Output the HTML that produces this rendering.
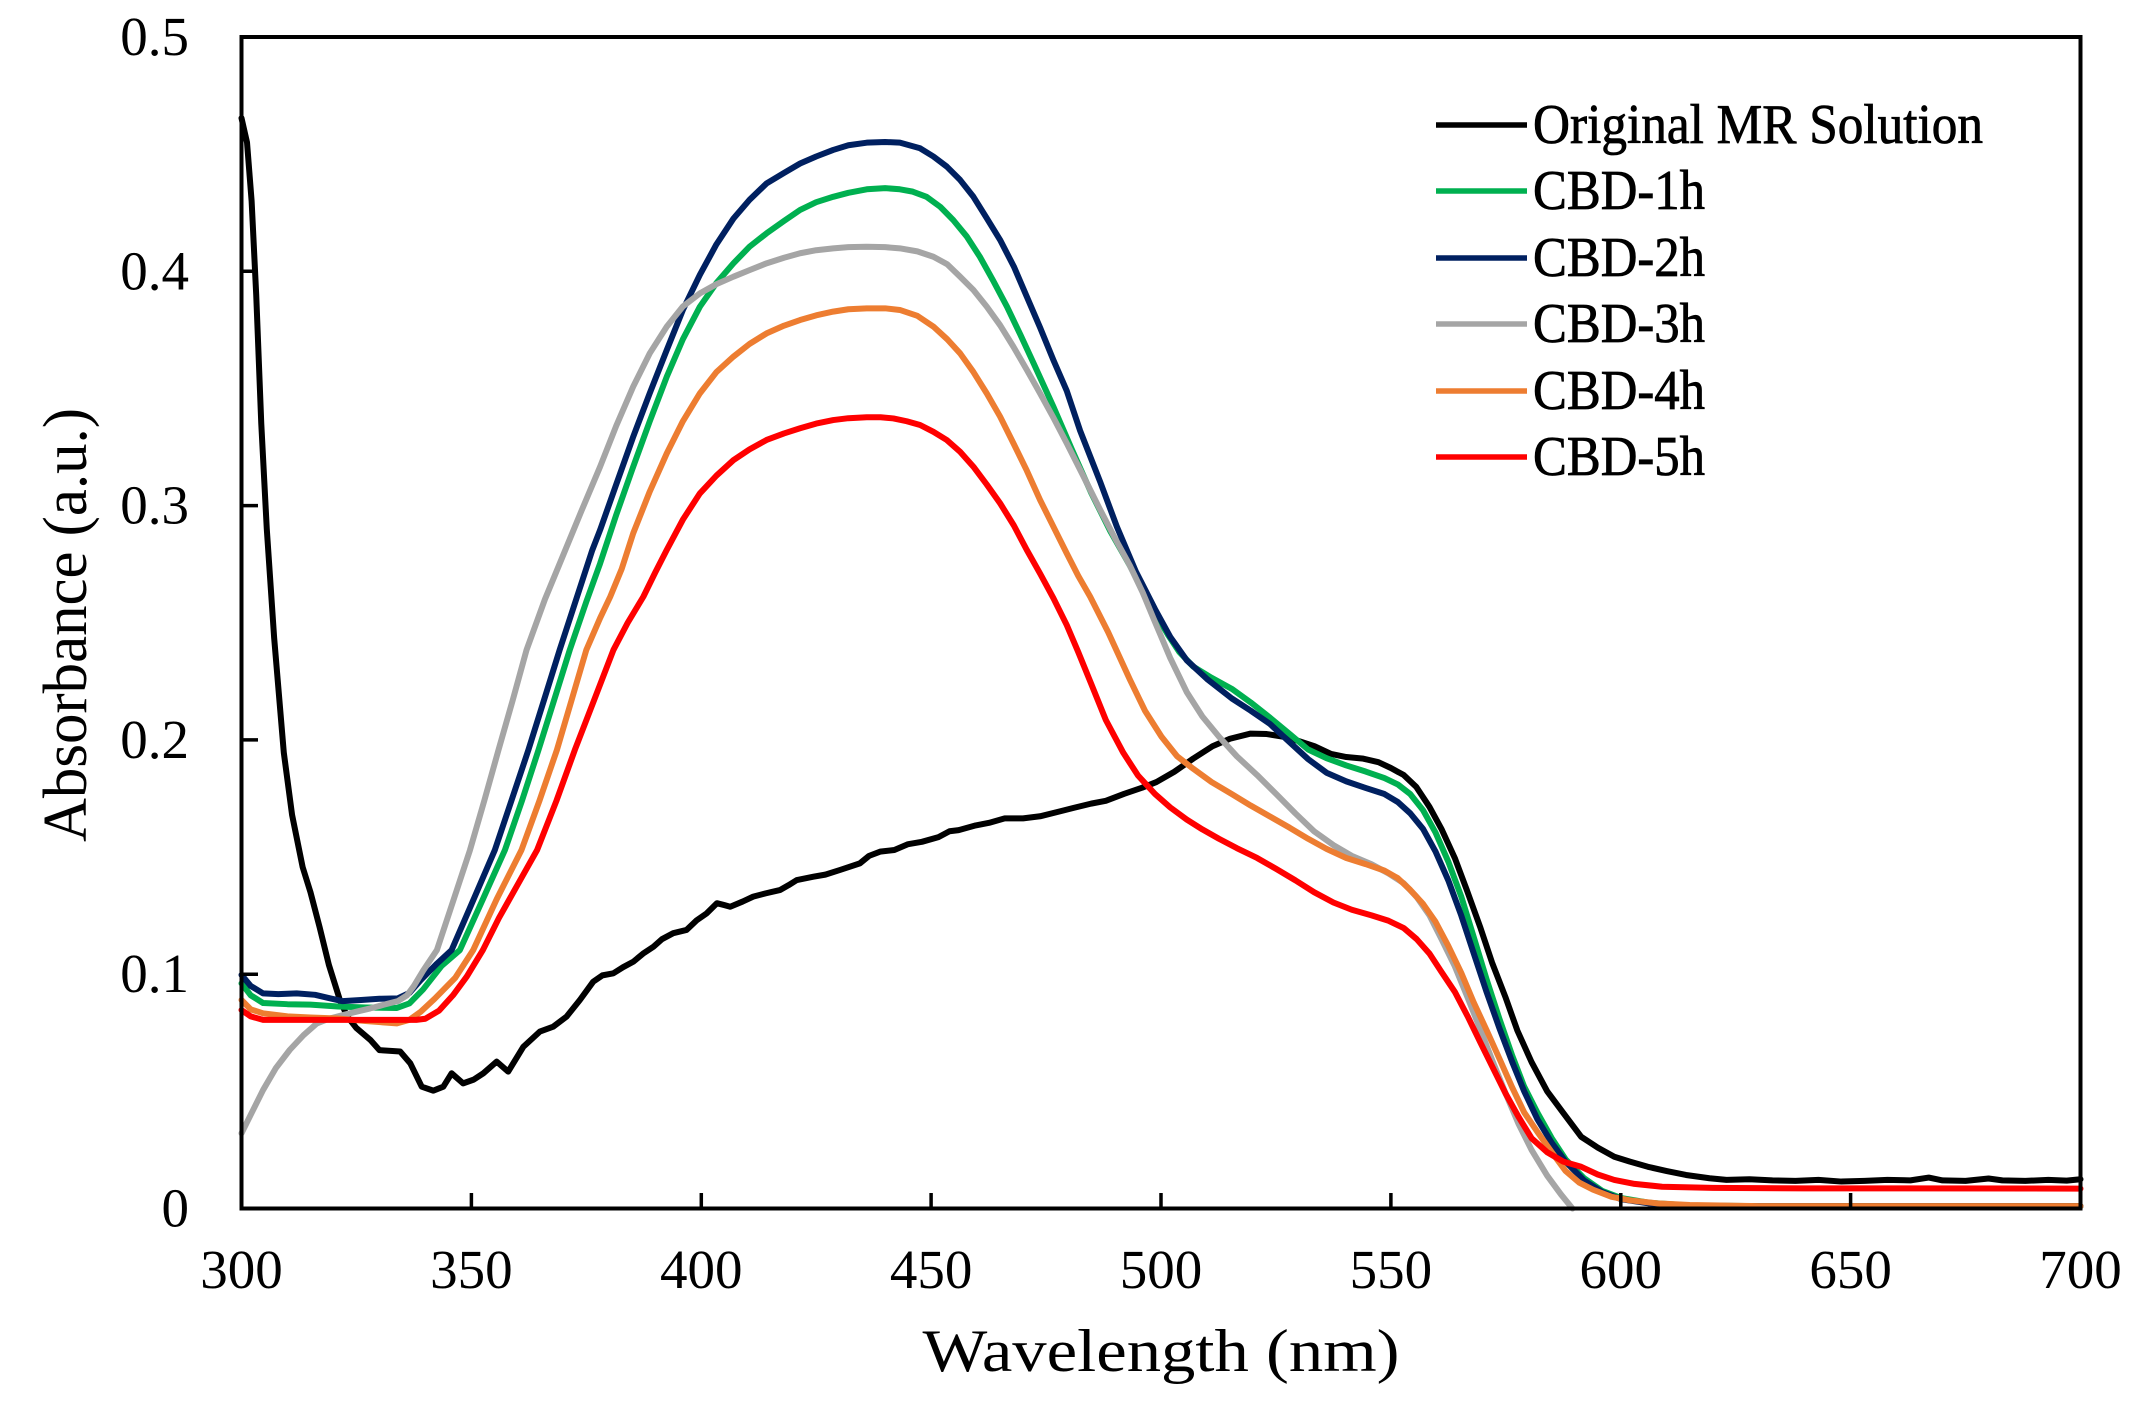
<!DOCTYPE html>
<html><head><meta charset="utf-8"><style>
html,body{margin:0;padding:0;background:#fff;}
svg{display:block;}
text{font-family:"Liberation Serif","Times New Roman",serif;fill:#000;}
</style></head><body>
<svg width="2147" height="1403" viewBox="0 0 2147 1403" xmlns="http://www.w3.org/2000/svg">
<rect x="0" y="0" width="2147" height="1403" fill="#fff"/>
<g transform="matrix(4.5975 0 0 -2343 -1137.75 1208.5)" fill="none" stroke-linejoin="round" stroke-linecap="round">
<polyline vector-effect="non-scaling-stroke" stroke="#000" stroke-width="6" points="300,0.4654 301.2,0.455 302.2,0.43 303.2,0.39 304.3,0.335 305.5,0.29 307.1,0.2436 309.2,0.1946 311,0.168 313.3,0.1457 315,0.135 317,0.12 319,0.104 321.4,0.089 323,0.082 325,0.077 328,0.072 330,0.0676 334.5,0.067 336.7,0.062 339.2,0.052 341.7,0.0503 343.9,0.052 345.7,0.0577 348.2,0.0534 350.5,0.055 352.6,0.0577 355.5,0.0627 358,0.0584 361.3,0.069 364.9,0.0755 367.8,0.0776 370.7,0.0819 373.6,0.089 376.5,0.0968 378.5,0.0995 380.9,0.1004 383,0.103 385.2,0.1053 387.5,0.109 389.6,0.1117 391.5,0.115 393.9,0.1175 396.8,0.1189 399,0.123 401.2,0.126 403.4,0.1303 405,0.1295 406.3,0.1288 409,0.131 411.3,0.1331 414,0.1345 417.1,0.1359 419,0.138 420.8,0.1402 424.4,0.1416 427,0.1425 430.2,0.1445 434.5,0.1473 436.5,0.1505 438.9,0.1523 442,0.153 445,0.1555 448,0.1565 451.6,0.1585 454,0.161 456,0.1615 459.7,0.1635 462.6,0.1646 466,0.1665 470,0.1665 473.7,0.1674 478,0.1695 481,0.171 484.8,0.1728 488,0.174 492,0.177 495.9,0.1796 499,0.182 502.9,0.1864 507,0.192 511.2,0.1973 515,0.2005 519.5,0.2027 523,0.2025 526.5,0.2014 530,0.1995 533.4,0.1973 537,0.194 540.3,0.1927 544,0.192 547.3,0.1905 550,0.188 552.8,0.185 555.5,0.18 558.4,0.1714 561,0.162 563.9,0.1496 566.5,0.136 569.5,0.1197 572,0.105 575,0.0898 577.5,0.076 580.6,0.0625 584,0.05 587.5,0.0408 591.4,0.0306 595,0.026 598.6,0.0221 602,0.02 605.9,0.0178 610,0.016 614.2,0.0143 619.3,0.0129 623,0.0122 628,0.0125 633,0.012 638,0.0118 643,0.0122 648,0.0115 653,0.0118 658,0.0122 663,0.012 667,0.0132 670,0.012 675,0.0118 680,0.0128 683,0.012 688,0.0118 693,0.0122 697,0.0119 700,0.0125"/>
<polyline vector-effect="non-scaling-stroke" stroke="#00B050" stroke-width="6" points="300,0.0961 302,0.091 304.7,0.0877 310,0.0872 315,0.087 321,0.0862 327,0.0858 333.8,0.0856 336.5,0.0875 339.5,0.0935 343.5,0.1035 347.5,0.1103 352.5,0.132 357.3,0.153 361,0.174 364.6,0.1957 368,0.217 371.4,0.2384 375,0.259 378,0.2753 381.5,0.296 385.2,0.3166 388.8,0.336 392.5,0.355 396,0.371 399.7,0.3849 403.3,0.395 407,0.4034 410.5,0.4105 414.2,0.4162 418,0.4215 421.5,0.4262 425,0.4295 428.7,0.4318 432,0.4335 436,0.435 440,0.4355 443.2,0.435 446,0.434 449,0.4318 452,0.4275 454.8,0.4219 457.7,0.415 460.6,0.4062 463.5,0.396 466.5,0.3849 469.4,0.373 472.3,0.3607 476.6,0.3422 480.6,0.324 484.8,0.3055 489,0.289 493.2,0.2745 497.3,0.259 501.5,0.2449 504,0.2375 507,0.2313 511,0.2265 515.4,0.2218 519.5,0.216 523.7,0.2095 528,0.2025 532,0.1959 536,0.1922 540.3,0.1891 544.5,0.1865 548.6,0.1837 551.5,0.181 554.2,0.1769 557,0.17 559.7,0.1605 562.5,0.148 565.3,0.1332 568,0.116 570.8,0.0979 573.6,0.081 576.4,0.0652 579,0.052 581.9,0.0408 585,0.03 588,0.021 592,0.013 596,0.0075 600,0.0045 606,0.0025 615,0.0013 630,0.001 700,0.001"/>
<polyline vector-effect="non-scaling-stroke" stroke="#002060" stroke-width="6" points="300,0.0997 302,0.095 304.7,0.0918 308,0.0915 312,0.0918 316,0.0912 319,0.0898 322,0.0885 326,0.089 330,0.0895 334,0.0897 336.5,0.092 339,0.0975 342.5,0.1045 345.7,0.1103 350.5,0.132 355.1,0.153 358.7,0.174 362.4,0.1957 365.8,0.217 369.2,0.2384 372.8,0.26 376.3,0.281 378,0.2896 381.5,0.309 385.2,0.3294 388.8,0.348 392.5,0.3664 396,0.3835 399.7,0.3985 403.3,0.4115 407,0.4225 410.5,0.4305 414.2,0.4375 418,0.442 421.5,0.446 425,0.449 428.7,0.4518 432,0.4538 436,0.4549 440,0.4552 443.2,0.4549 447.6,0.4525 450.5,0.449 453.4,0.4447 456.3,0.439 459.2,0.4318 462,0.423 465,0.4134 468,0.402 470.8,0.3892 473.7,0.376 476.6,0.3621 479.5,0.349 482.4,0.332 486.8,0.31 490.4,0.291 494.5,0.272 498.7,0.2558 502,0.244 505.6,0.234 510,0.226 515.4,0.2177 519.5,0.2125 523.7,0.2068 528,0.199 532,0.1918 536,0.186 540.3,0.1823 544.5,0.1795 548.6,0.1769 551.5,0.1735 554.2,0.1687 557,0.162 559.7,0.1524 562.5,0.14 565.3,0.1251 568,0.109 570.8,0.0925 573.6,0.077 576.4,0.0625 579,0.05 581.9,0.038 585,0.028 588,0.02 592,0.012 596,0.007 600,0.004 606,0.0022 615,0.0012 630,0.001 700,0.001"/>
<polyline vector-effect="non-scaling-stroke" stroke="#A5A5A5" stroke-width="6" points="300,0.0321 302,0.04 304.7,0.0506 307.5,0.06 310.5,0.0677 313.5,0.074 316.4,0.079 319,0.081 322.1,0.0826 325,0.084 328,0.0854 331,0.087 334,0.0885 336,0.091 337.5,0.095 339.5,0.1015 342.5,0.1103 346,0.131 349.7,0.153 352.8,0.174 355.9,0.1957 359,0.217 362,0.2384 366,0.26 370,0.279 374,0.298 378,0.3166 381.5,0.334 385.2,0.3508 388.8,0.365 392.5,0.3764 396,0.385 399.7,0.3906 403.3,0.3945 407,0.3977 410.5,0.4005 414.2,0.4034 418,0.4058 421.5,0.4077 425,0.409 428.7,0.4098 432,0.4103 436,0.4105 440,0.4103 443.2,0.4098 447,0.4085 450.5,0.4062 453.5,0.403 456.3,0.3977 459.2,0.392 462.1,0.3849 465,0.377 467.9,0.3678 470.8,0.358 473.7,0.3479 476.6,0.3375 479.5,0.3266 483,0.313 486.8,0.2981 490,0.286 493.2,0.2745 496,0.263 498.7,0.2503 502,0.235 505.6,0.2204 509,0.21 512.6,0.2014 516.5,0.193 520.9,0.185 525,0.177 529.2,0.1687 533.3,0.161 537.5,0.1551 541.5,0.1505 545.8,0.1469 549.5,0.143 552.8,0.1388 555.6,0.133 558.4,0.1251 561,0.115 563.9,0.1034 566.7,0.09 569.5,0.0762 572.2,0.0625 575,0.0489 577.8,0.036 580.6,0.025 584,0.014 587,0.006 589.5,0"/>
<polyline vector-effect="non-scaling-stroke" stroke="#ED7D31" stroke-width="6" points="300,0.089 302,0.085 304.7,0.0833 310,0.082 315,0.0815 321,0.0811 327,0.08 333.8,0.079 336.5,0.0805 339,0.084 342,0.0895 346.5,0.0985 350.4,0.1103 355.5,0.132 360.9,0.153 364.8,0.174 368.6,0.1957 371.8,0.217 375,0.2384 378,0.252 380.2,0.2611 382.7,0.273 385.2,0.2882 388.8,0.306 392.5,0.3223 396,0.336 399.7,0.3479 403.3,0.357 407,0.3636 410.5,0.369 414.2,0.3735 418,0.3768 421.5,0.3792 425,0.3812 428.7,0.3828 432,0.3838 436,0.3842 440,0.3842 443.2,0.3835 447,0.381 450.5,0.3764 453.5,0.371 456.3,0.365 459.2,0.357 462.1,0.3479 465,0.338 467.9,0.3266 470.8,0.315 473.7,0.3024 476.6,0.291 479.5,0.2796 482,0.27 484.6,0.2611 488.5,0.246 493.2,0.2259 496.5,0.2125 500.1,0.2014 503.5,0.193 507,0.1877 511,0.182 515.4,0.1769 519.5,0.172 523.7,0.1673 528,0.1625 532,0.1578 536,0.1535 540.3,0.1496 544.5,0.147 548.6,0.1442 551.5,0.141 554.2,0.136 557,0.13 559.7,0.1224 562.5,0.112 565.3,0.1006 568,0.088 570.8,0.0762 573.6,0.064 576.4,0.0516 579,0.041 581.9,0.0326 585,0.024 588,0.016 591,0.011 594,0.008 598,0.005 602,0.0035 608,0.0022 615,0.0015 630,0.001 700,0.001"/>
<polyline vector-effect="non-scaling-stroke" stroke="#FF0000" stroke-width="6" points="300,0.0847 302,0.082 304.7,0.0805 310,0.0805 315,0.0805 321,0.0805 327,0.0805 333.8,0.0805 338,0.0805 340,0.081 343,0.0845 346,0.091 349,0.099 352.5,0.1103 356,0.124 360,0.138 364.3,0.153 368.5,0.174 372.5,0.1957 376.7,0.217 380.9,0.2384 384,0.25 387.4,0.2611 390,0.2715 392.5,0.2811 396,0.294 399.7,0.3052 403.3,0.3128 407,0.3194 410.5,0.324 414.2,0.328 418,0.3308 421.5,0.333 425,0.335 428.7,0.3365 432,0.3373 436,0.3377 439,0.3377 441.8,0.3372 444.7,0.336 447.6,0.3344 450.5,0.3315 453.4,0.328 456.3,0.323 459.2,0.3166 462.1,0.309 465,0.301 468,0.2915 470.8,0.2811 473.7,0.271 476.6,0.2605 479.5,0.249 482,0.2375 484.8,0.224 488,0.2085 491.8,0.1945 495,0.1848 498.7,0.1769 502,0.1712 505.6,0.166 509,0.1618 512.6,0.1578 516.5,0.1538 520.9,0.1496 525,0.145 529.2,0.1401 533.3,0.135 537.5,0.1306 541.5,0.1275 545.8,0.1251 549.5,0.1228 552.8,0.1197 555.6,0.115 558.4,0.1088 561,0.101 563.9,0.0925 566.7,0.082 569.5,0.0707 572.2,0.06 575,0.0489 577.8,0.039 580.6,0.03 584,0.024 587.5,0.02 591.4,0.0178 595,0.0145 598.6,0.0122 603,0.0105 609,0.0093 620,0.0088 640,0.0086 700,0.0085"/>
</g>
<!-- frame -->
<rect x="241.5" y="37" width="1839" height="1171.5" fill="none" stroke="#000" stroke-width="4"/>
<g stroke="#000" stroke-width="3.5">
<line x1="471.4" y1="1208.5" x2="471.4" y2="1193"/>
<line x1="701.3" y1="1208.5" x2="701.3" y2="1193"/>
<line x1="931.1" y1="1208.5" x2="931.1" y2="1193"/>
<line x1="1161" y1="1208.5" x2="1161" y2="1193"/>
<line x1="1390.9" y1="1208.5" x2="1390.9" y2="1193"/>
<line x1="1620.8" y1="1208.5" x2="1620.8" y2="1193"/>
<line x1="1850.6" y1="1208.5" x2="1850.6" y2="1193"/>
<line x1="241.5" y1="974.2" x2="258" y2="974.2"/>
<line x1="241.5" y1="739.9" x2="258" y2="739.9"/>
<line x1="241.5" y1="505.6" x2="258" y2="505.6"/>
<line x1="241.5" y1="271.3" x2="258" y2="271.3"/>
</g>
<!-- y tick labels -->
<g font-size="55" text-anchor="end">
<text x="189" y="1226.5">0</text>
<text x="189" y="992.2">0.1</text>
<text x="189" y="757.9">0.2</text>
<text x="189" y="523.6">0.3</text>
<text x="189" y="289.3">0.4</text>
<text x="189" y="55">0.5</text>
</g>
<!-- x tick labels -->
<g font-size="55" text-anchor="middle">
<text x="241.5" y="1288">300</text>
<text x="471.4" y="1288">350</text>
<text x="701.3" y="1288">400</text>
<text x="931.1" y="1288">450</text>
<text x="1161" y="1288">500</text>
<text x="1390.9" y="1288">550</text>
<text x="1620.8" y="1288">600</text>
<text x="1850.6" y="1288">650</text>
<text x="2080.5" y="1288">700</text>
</g>
<!-- axis titles -->
<text x="1161" y="1371" font-size="60" text-anchor="middle" textLength="477" lengthAdjust="spacingAndGlyphs">Wavelength (nm)</text>
<text transform="translate(86,625) rotate(-90)" x="0" y="0" font-size="62" text-anchor="middle" textLength="434" lengthAdjust="spacingAndGlyphs">Absorbance (a.u.)</text>
<!-- legend -->
<g stroke-width="5.5">
<line x1="1436" y1="125" x2="1527" y2="125" stroke="#000"/>
<line x1="1436" y1="191" x2="1527" y2="191" stroke="#00B050"/>
<line x1="1436" y1="258" x2="1527" y2="258" stroke="#002060"/>
<line x1="1436" y1="324" x2="1527" y2="324" stroke="#A5A5A5"/>
<line x1="1436" y1="391" x2="1527" y2="391" stroke="#ED7D31"/>
<line x1="1436" y1="457" x2="1527" y2="457" stroke="#FF0000"/>
</g>
<g font-size="56" stroke="#000" stroke-width="0.8">
<text x="1533" y="143" textLength="450" lengthAdjust="spacingAndGlyphs">Original MR Solution</text>
<text x="1533" y="209" textLength="172" lengthAdjust="spacingAndGlyphs">CBD-1h</text>
<text x="1533" y="276" textLength="172" lengthAdjust="spacingAndGlyphs">CBD-2h</text>
<text x="1533" y="342" textLength="172" lengthAdjust="spacingAndGlyphs">CBD-3h</text>
<text x="1533" y="409" textLength="172" lengthAdjust="spacingAndGlyphs">CBD-4h</text>
<text x="1533" y="475" textLength="172" lengthAdjust="spacingAndGlyphs">CBD-5h</text>
</g>
</svg>
</body></html>
